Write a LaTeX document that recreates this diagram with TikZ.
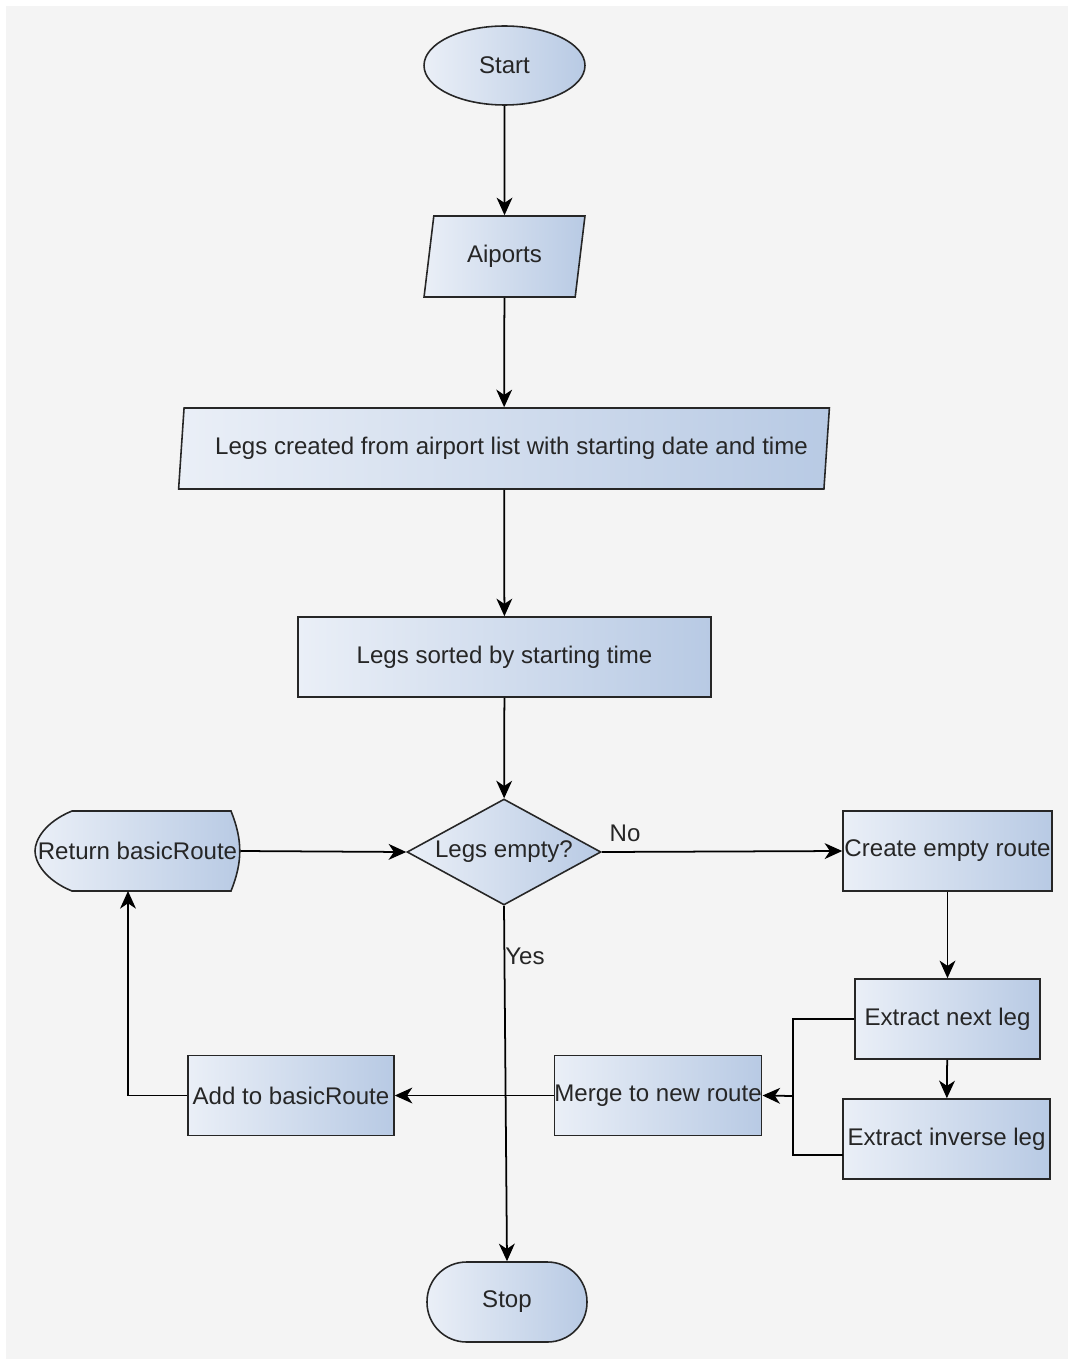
\documentclass[tikz,border=0pt]{standalone}
\usepackage{fontspec}
\setmainfont{Liberation Sans}
\usetikzlibrary{shapes.geometric,arrows.meta}

\definecolor{bgfill}{HTML}{F4F4F4}
\definecolor{boxlight}{HTML}{EAEFF7}
\definecolor{boxdark}{HTML}{B8CAE4}
\definecolor{boxline}{HTML}{262626}

\tikzset{
	flowbox/.style={draw=boxline, line width=0.9pt, left color=boxlight, right color=boxdark, inner sep=0pt, text=black!85, font=\fontsize{13.7}{16.5}\selectfont},
	procbox/.style={flowbox, rectangle, minimum height=1.6cm},
	iobox/.style={flowbox, trapezium, trapezium left angle=77, trapezium right angle=103, trapezium stretches=true, minimum height=1.62cm},
	arr/.style={line width=1pt, -{Stealth[length=10pt,width=9pt,inset=3pt]}},
	lbl/.style={font=\fontsize{13.7}{16.5}\selectfont, text=black!85, inner sep=0pt}
}

\begin{document}
\begin{tikzpicture}[x=0.02cm, y=-0.02cm]
	\useasboundingbox (0,0) rectangle (1074,1365);
	\fill[bgfill] (6,6) rectangle (1068,1359);

	\node[flowbox, ellipse, minimum width=3.22cm, minimum height=1.58cm] (start) at (504.5,65.5) {Start};
	\node[iobox, minimum width=3.22cm] (aiports) at (504.5,256.5) {Aiports};
	\node[iobox, minimum width=13.04cm] (legscreated) at (504,448.5) {\hspace*{0.3cm}Legs created from airport list with starting date and time};
	\node[procbox, minimum width=8.26cm] (legssorted) at (504.5,657) {Legs sorted by starting time};
	\node[flowbox, diamond, shape aspect=1.83, minimum width=3.88cm, minimum height=2.12cm] (legsempty) at (504,852) {Legs empty?};

	\node[procbox, minimum width=4.18cm] (createroute) at (947.5,851) {Create empty route};
	\node[procbox, minimum width=3.7cm] (nextleg) at (947.5,1019) {Extract next leg};
	\node[procbox, minimum width=4.14cm] (inverseleg) at (946.5,1139) {Extract inverse leg};
	\node[procbox, minimum width=4.12cm] (mergeroute) at (658,1095.5) {Merge to new route};
	\node[procbox, minimum width=4.12cm] (addroute) at (291,1095.5) {Add to basicRoute};
	\node[flowbox, rectangle, rounded corners=0.79cm, minimum width=3.2cm, minimum height=1.6cm] (stop) at (507,1302) {Stop};

	% display shape
	\node[inner sep=0pt, minimum width=4.1cm, minimum height=1.6cm] (returnroute) at (137.5,851) {};
	\draw[flowbox] (72,811) -- (231,811) to[bend left=22] (231,891) -- (72,891)
		.. controls (45,880) and (35,862) .. (35,851) .. controls (35,840) and (45,822) .. (72,811) -- cycle;
	\node[lbl] at (returnroute) {Return basicRoute};

	\coordinate (bracket) at (793,1096);
	\coordinate (inversejoin) at (843,1155);
	\coordinate (returnin) at (128,891);

	\draw[arr] (start) -- (aiports);
	\draw[arr] (aiports) -- (legscreated);
	\draw[arr] (legscreated) -- (legssorted);
	\draw[arr] (legssorted) -- (legsempty);
	\draw[arr] (legsempty.east) -- (createroute.west);
	\draw[arr] (legsempty.south) -- (stop.north);
	\draw[arr] (createroute) -- (nextleg);
	\draw[arr] (nextleg) -- (inverseleg);
	\draw[line width=1pt] (nextleg.west) -| (bracket) |- (inversejoin);
	\draw[arr] (bracket) -- (mergeroute.east);
	\draw[arr] (mergeroute.west) -- (addroute.east);
	\draw[arr] (addroute.west) -| (returnin);
	\draw[arr] (returnroute.east) -- (legsempty.west);

	\node[lbl] at (625,833) {No};
	\node[lbl] at (525,956) {Yes};
\end{tikzpicture}
\end{document}
